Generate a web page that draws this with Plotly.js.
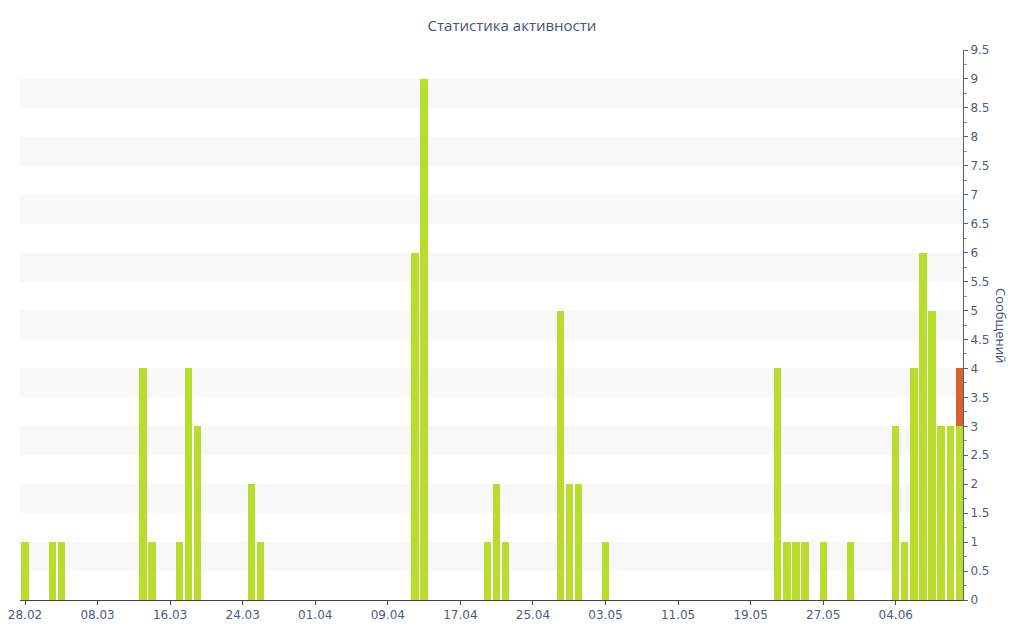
<!DOCTYPE html>
<html>
<head>
<meta charset="utf-8">
<script src="https://cdn.plot.ly/plotly-3.0.1.min.js"></script>
<style>html,body{margin:0;padding:0;background:#fff;}#chart{width:1024px;height:640px;}</style>
</head>
<body>
<div id="chart"></div>
<script>
const dates = ['2023-02-28','2023-03-03','2023-03-04','2023-03-13','2023-03-14','2023-03-17','2023-03-18','2023-03-19','2023-03-25','2023-03-26','2023-04-12','2023-04-13','2023-04-20','2023-04-21','2023-04-22','2023-04-28','2023-04-29','2023-04-30','2023-05-03','2023-05-22','2023-05-23','2023-05-24','2023-05-25','2023-05-27','2023-05-30','2023-06-04','2023-06-05','2023-06-06','2023-06-07','2023-06-08','2023-06-09','2023-06-10','2023-06-11'];
const messages = [1,1,1,4,1,1,4,3,2,1,6,9,1,2,1,5,2,2,1,4,1,1,1,1,1,3,1,4,6,5,3,3,3];
const todayDates = ['2023-06-11'];
const todayMessages = [1];
const bandStarts = [0.5,1.5,2.5,3.5,4.5,5.5,6.5,7.5,8.5];
const titleText = 'Статистика активности';
const yTitleText = 'Сообщений';

const shapes = bandStarts.map(b => ({type:'rect', xref:'paper', yref:'y', x0:0, x1:1, y0:b, y1:b+0.5, fillcolor:'#f8f8f8', line:{width:0}, layer:'below'}));

const traces = [
  {type:'bar', x:dates, y:messages, marker:{color:'#b9dc2e'}, hoverinfo:'x+y', showlegend:false},
  {type:'bar', x:todayDates, y:todayMessages, marker:{color:'#d9612c'}, hoverinfo:'x+y', showlegend:false}
];

const layout = {
  width:1024, height:640,
  margin:{l:20, r:61, t:50, b:40},
  paper_bgcolor:'#fff', plot_bgcolor:'rgba(0,0,0,0)',
  barmode:'stack', bargap:0.2,
  font:{family:'DejaVu Sans, Verdana, sans-serif', size:12, color:'#505a80'},
  title:{text:titleText, x:0.5, xanchor:'center', y:0.96, yanchor:'middle', font:{family:'Open Sans, sans-serif', size:15, color:'#4a5080'}},
  xaxis:{type:'date', range:['2023-02-27 10:45','2023-06-11 10:00'], tick0:'2023-02-28', dtick:8*86400000, tickformat:'%d.%m', ticks:'outside', ticklen:4, tickcolor:'#444', showline:true, linecolor:'#444', linewidth:1, showgrid:false, zeroline:false, tickfont:{size:12, color:'#505a80'}},
  yaxis:{side:'right', range:[0,9.5], dtick:0.5, tick0:0, ticks:'outside', ticklen:4, tickcolor:'#506080', showline:true, linecolor:'#506080', linewidth:1, showgrid:false, zeroline:false, tickfont:{size:12, color:'#505a80'}, minor:{dtick:0.25, ticks:'outside', ticklen:3, tickcolor:'#8890a8'}},
  shapes:shapes,
  annotations:[{text:yTitleText, xref:'paper', yref:'paper', x:1, xshift:38, y:0.5, xanchor:'center', yanchor:'middle', textangle:90, showarrow:false, font:{family:'Open Sans, sans-serif', size:13, color:'#4a5080'}}]
};
Plotly.newPlot('chart', traces, layout, {displayModeBar:false, staticPlot:true});
</script>
</body>
</html>
